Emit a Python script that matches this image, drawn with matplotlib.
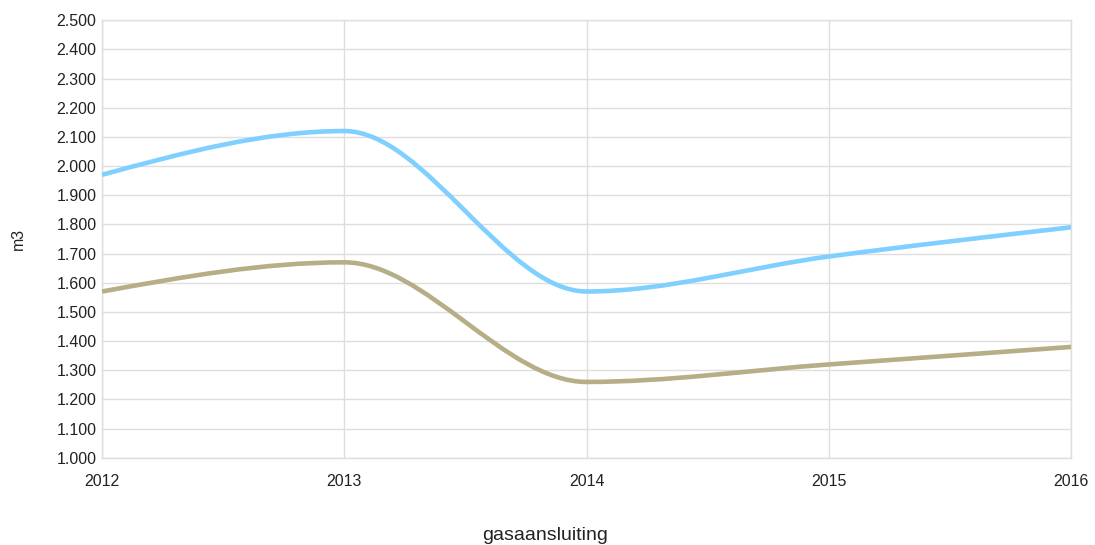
import numpy as np
import matplotlib.pyplot as plt
from matplotlib.path import Path
from matplotlib.patches import PathPatch
from matplotlib.ticker import FuncFormatter, MultipleLocator

plt.rcParams['font.family'] = ['Liberation Sans', 'DejaVu Sans']

# Data
years = [2012, 2013, 2014, 2015, 2016]
series_blue = [1970, 2120, 1570, 1690, 1790]
series_khaki = [1570, 1670, 1260, 1320, 1380]

BLUE = '#7fd0ff'
KHAKI = '#b5ae86'
GRID = '#dedede'


def monotone_path(x, y):
    # monotone cubic (d3 monotoneX style) drawn as bezier segments
    x = np.asarray(x, float)
    y = np.asarray(y, float)
    h = np.diff(x)
    s = np.diff(y) / h
    m = np.zeros(len(x))
    for i in range(1, len(x) - 1):
        p = (s[i - 1] * h[i] + s[i] * h[i - 1]) / (h[i - 1] + h[i])
        m[i] = (np.sign(s[i - 1]) + np.sign(s[i])) * min(abs(s[i - 1]), abs(s[i]), 0.5 * abs(p))
    m[0] = (3 * s[0] - m[1]) / 2
    m[-1] = (3 * s[-1] - m[-2]) / 2
    verts = [(x[0], y[0])]
    codes = [Path.MOVETO]
    for i in range(len(h)):
        verts += [(x[i] + h[i] / 3, y[i] + m[i] * h[i] / 3),
                  (x[i + 1] - h[i] / 3, y[i + 1] - m[i + 1] * h[i] / 3),
                  (x[i + 1], y[i + 1])]
        codes += [Path.CURVE4] * 3
    return Path(verts, codes)


fig = plt.figure(figsize=(10.95, 5.45), dpi=100)
ax = fig.add_axes([0.0932, 0.160, 0.885, 0.803])

for vals, col in [(series_blue, BLUE), (series_khaki, KHAKI)]:
    ax.add_patch(PathPatch(monotone_path(years, vals), facecolor='none',
                           edgecolor=col, lw=3.3, capstyle='butt', zorder=3))

ax.set_xlim(2012, 2016)
ax.set_ylim(1000, 2500)
ax.set_xticks(years)
ax.yaxis.set_major_locator(MultipleLocator(100))
ax.yaxis.set_major_formatter(FuncFormatter(lambda v, p: f"{v:,.0f}".replace(',', '.')))
ax.grid(True, color=GRID, lw=1)
ax.set_axisbelow(True)
for sp in ax.spines.values():
    sp.set_color(GRID)
    sp.set_linewidth(1)
ax.tick_params(length=0, labelsize=11.5, colors='#222222')
ax.tick_params(axis='x', pad=12)
ax.tick_params(axis='y', pad=4)

ax.set_xlabel('gasaansluiting', fontsize=14, color='#222222', va='center')
ax.xaxis.set_label_coords(0.457, -0.178)
ax.set_ylabel('m3', fontsize=11.5, color='#222222', va='center')
ax.yaxis.set_label_coords(-0.0867, 0.5)

plt.savefig('out.png', dpi=100)
